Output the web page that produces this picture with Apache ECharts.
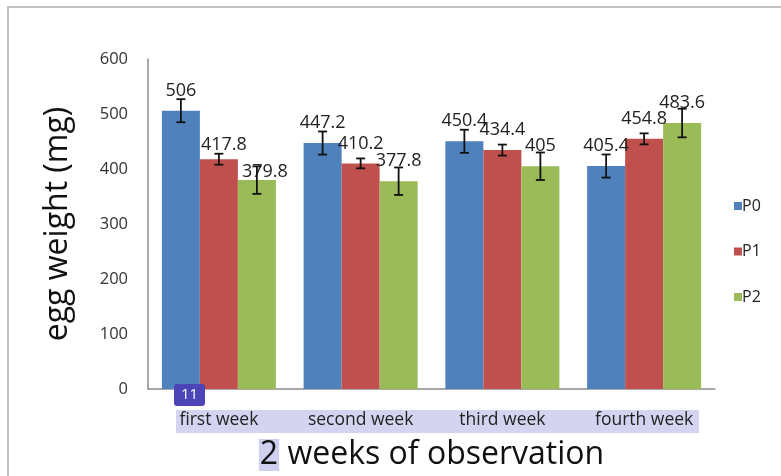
<!DOCTYPE html>
<html>
<head>
<meta charset="utf-8">
<script src="https://cdn.jsdelivr.net/npm/echarts@6/dist/echarts.min.js"></script>
<style>
  html, body { margin: 0; padding: 0; background: #fff; }
  #chart { width: 781px; height: 476px; }
</style>
</head>
<body>
<div id="chart"></div>
<script>
// categories and values
const weeks = ['first week', 'second week', 'third week', 'fourth week'];
const seriesNames = ['P0', 'P1', 'P2'];
const p0 = [506, 447.2, 450.4, 405.4];
const p1 = [417.8, 410.2, 434.4, 454.8];
const p2 = [379.8, 377.8, 405, 483.6];
// +/- error, estimated from the bar caps
const p0Err = [21, 21, 21, 21];
const p1Err = [10, 9, 10, 10];
const p2Err = [25, 25, 25, 26];
const yTicks = { min: 0, max: 600, step: 100 };

const colors = ['#4F81BD', '#C0504D', '#9BBB59'];
const font = '"Open Sans", Lato, sans-serif';
const barW = 38;

const chart = echarts.init(document.getElementById('chart'));

const values = [p0, p1, p2];
const errs = [p0Err, p1Err, p2Err];

// a couple of labels in the source were pushed aside by hand
const labelNudge = { '1-0': [5, 6], '2-0': [8, 12] };

const barSeries = values.map((vals, s) => ({
	name: seriesNames[s],
	type: 'bar',
	barWidth: barW,
	barGap: '0%',
	itemStyle: { color: colors[s] },
	label: {
		show: true,
		position: 'top',
		distance: 11,
		fontSize: 18,
		fontFamily: font,
		color: '#222'
	},
	data: vals.map((v, i) => {
		const nudge = labelNudge[s + '-' + i];
		return nudge ? { value: v, label: { offset: nudge } } : v;
	})
}));

// error bars drawn as custom series, one per bar series
const errSeries = errs.map((e, s) => ({
	type: 'custom',
	z: 5,
	silent: true,
	renderItem: function (params, api) {
		const off = (s - 1) * barW;
		const lo = api.coord([api.value(0), api.value(1)]);
		const hi = api.coord([api.value(0), api.value(2)]);
		const x = lo[0] + off;
		const cap = 4.5;
		const style = { stroke: '#111', lineWidth: 1.8 };
		return {
			type: 'group',
			children: [
				{ type: 'line', shape: { x1: x, y1: hi[1], x2: x, y2: lo[1] }, style: style },
				{ type: 'line', shape: { x1: x - cap, y1: hi[1], x2: x + cap, y2: hi[1] }, style: style },
				{ type: 'line', shape: { x1: x - cap, y1: lo[1], x2: x + cap, y2: lo[1] }, style: style }
			]
		};
	},
	encode: { x: 0, y: [1, 2] },
	data: values[s].map((v, i) => [i, v - e[i], v + e[i]])
}));

const option = {
	animation: false,
	backgroundColor: '#fff',
	grid: { left: 148, right: 66, top: 59, bottom: 85 },
	legend: {
		orient: 'vertical',
		left: 729,
		top: 193,
		itemWidth: 8,
		itemHeight: 8,
		itemGap: 29.5,
		icon: 'rect',
		data: seriesNames,
		textStyle: { fontSize: 16, fontFamily: font, color: '#222', lineHeight: 16, padding: [0, 0, 0, -5] }
	},
	xAxis: {
		type: 'category',
		data: weeks,
		axisLine: { lineStyle: { color: '#8c8c8c', width: 1.5 } },
		axisTick: { show: false },
		axisLabel: { fontSize: 17.5, fontFamily: font, color: '#222', margin: 22 },
		name: '{hl|2} weeks of observation',
		nameLocation: 'middle',
		nameGap: 50,
		nameTextStyle: {
			fontSize: 32,
			fontFamily: font,
			color: '#111',
			rich: {
				hl: { fontSize: 32, fontFamily: font, color: '#111', backgroundColor: '#cfd0ef', padding: [0, 1, 0, 1] }
			}
		}
	},
	yAxis: {
		type: 'value',
		min: yTicks.min,
		max: yTicks.max,
		interval: yTicks.step,
		axisLine: { show: true, lineStyle: { color: '#8c8c8c', width: 1.5 } },
		axisTick: { show: false },
		splitLine: { show: false },
		axisLabel: { fontSize: 16.5, fontFamily: font, color: '#333', margin: 20 },
		name: 'egg weight (mg)',
		nameLocation: 'middle',
		nameGap: 74,
		nameTextStyle: { fontSize: 32, fontFamily: font, color: '#111' }
	},
	graphic: [
		// outer frame of the pasted chart
		{
			type: 'rect',
			z: -10,
			shape: { x: 8, y: 7, width: 820, height: 520 },
			style: { fill: 'none', stroke: '#c2c2c2', lineWidth: 2 }
		},
		// highlight band behind the category labels
		{
			type: 'rect',
			z: -5,
			shape: { x: 176, y: 410, width: 523, height: 23 },
			style: { fill: '#d4d4f0' }
		},
		// little "11" badge
		{
			type: 'rect',
			z: 50,
			shape: { x: 174, y: 384, width: 31, height: 22, r: 3 },
			style: { fill: '#4b45b8' }
		},
		{
			type: 'text',
			z: 51,
			x: 189.5,
			y: 395,
			style: { text: '11', fill: '#fff', fontSize: 15, fontFamily: font, align: 'center', verticalAlign: 'middle' }
		}
	],
	series: barSeries.concat(errSeries)
};

chart.setOption(option);
</script>
</body>
</html>
